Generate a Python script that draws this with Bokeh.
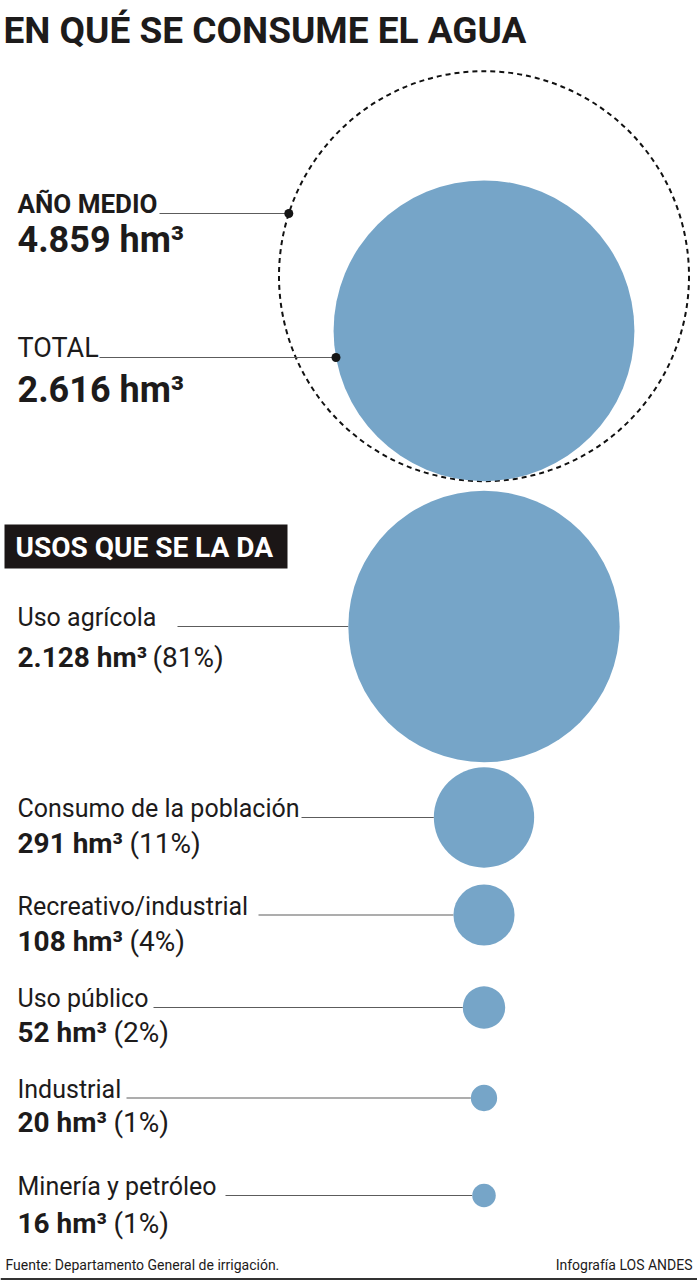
import math
from bokeh.plotting import figure
from bokeh.models import Range1d, ColumnDataSource
from bokeh.core.properties import value
from bokeh.embed import file_html
from bokeh.resources import INLINE

# ---------------- data ----------------
title = "EN QUÉ SE CONSUME EL AGUA"
section_title = "USOS QUE SE LA DA"
source_note = "Fuente: Departamento General de irrigación."
credit = "Infografía LOS ANDES"

summary_labels = ["AÑO MEDIO", "TOTAL"]
summary_values = [4859, 2616]          # hm3

categories = ["Uso agrícola", "Consumo de la población", "Recreativo/industrial",
              "Uso público", "Industrial", "Minería y petróleo"]
volumes = [2128, 291, 108, 52, 20, 16]  # hm3
percents = [81, 11, 4, 2, 1, 1]         # %

# ---------------- layout / style ----------------
W, H = 697, 1280
FONT = value("Roboto")
BLUE = "#76a5c8"
INK = "#1d1b1b"
LEADER = "#5c5c5c"

CX = 483.5                      # x of circle centres
K = 2.941                       # px of radius per sqrt(hm3)  (area-proportional)
TOP_BOTTOM = 480.7              # both top circles touch at this y
BASE_SHIFT = 0.36               # baseline correction (fraction of font size)

summary_label_y = [213, 357]
summary_value_y = [252, 402]
summary_label_style = ["bold", "normal"]
summary_label_size = [26, 27]
summary_leader_x0 = [159, 99]

row_label_y = [626, 817, 914.5, 1007, 1097.5, 1195]
row_value_y = [667, 853, 951, 1042, 1132, 1233]
row_leader_x0 = [177, 301, 258, 153, 126, 225]
row_paren_x = [152, 129, 129, 113, 113, 113]

LEFT = 17


def fmt(v):
    return f"{v:,}".replace(",", ".")


def bl(y, size):
    """text y so that the glyph baseline lands on y"""
    if isinstance(y, list):
        return [v - BASE_SHIFT * size for v in y]
    return y - BASE_SHIFT * size


p = figure(width=W, height=H, x_range=Range1d(0, W), y_range=Range1d(H, 0),
           output_backend="svg", toolbar_location=None, min_border=0,
           x_axis_location=None, y_axis_location=None)
p.grid.visible = False
p.outline_line_color = None
p.background_fill_color = "white"
p.border_fill_color = "white"

# title
p.text(x=[3], y=[bl(43, 37)], text=[title], text_font=FONT, text_font_size="37px",
       text_font_style="bold", text_color=INK, text_baseline="alphabetic")

# ---------------- top summary circles ----------------
radii_top = [K * math.sqrt(v) for v in summary_values]
cy_top = [TOP_BOTTOM - r for r in radii_top]

# outer dashed circle (año medio)
p.circle(x=[CX], y=[cy_top[0]], radius=radii_top[0], fill_alpha=0,
         line_color="#111111", line_width=2, line_dash="5 4")
# filled total circle
p.circle(x=[CX], y=[cy_top[1]], radius=radii_top[1], fill_color=BLUE,
         line_color=None)

dot_x = []
for r, cy, ly in zip(radii_top, cy_top, summary_label_y):
    dot_x.append(CX - math.sqrt(r * r - (ly - cy) ** 2))

p.segment(x0=summary_leader_x0, y0=summary_label_y, x1=dot_x, y1=summary_label_y,
          line_color=LEADER, line_width=1.2)
p.scatter(x=dot_x, y=summary_label_y, size=9, fill_color="#151515", line_color=None)

for lbl, y, st, fs in zip(summary_labels, summary_label_y, summary_label_style, summary_label_size):
    p.text(x=[LEFT], y=[bl(y, fs)], text=[lbl], text_font=FONT, text_font_size=f"{fs}px",
           text_font_style=st, text_color=INK, text_baseline="alphabetic")
p.text(x=[LEFT] * 2, y=bl(summary_value_y, 36), text=[f"{fmt(v)} hm³" for v in summary_values],
       text_font=FONT, text_font_size="36px", text_font_style="bold",
       text_color=INK, text_baseline="alphabetic")

# ---------------- section header ----------------
p.quad(left=[4], right=[287], top=[524], bottom=[568], fill_color="#1b1616", line_color=None)
p.text(x=[15], y=[bl(557, 28)], text=[section_title], text_font=FONT, text_font_size="28px",
       text_font_style="bold", text_color="white", text_baseline="alphabetic")

# ---------------- usage rows ----------------
row_r = [K * math.sqrt(v) for v in volumes]
src = ColumnDataSource(dict(
    x=[CX] * len(volumes), y=row_label_y, r=row_r,
    x0=row_leader_x0, x1=[CX - r for r in row_r],
    lab=categories, lx=[LEFT] * len(volumes), ly=bl(row_label_y, 25),
    vy=bl(row_value_y, 28), vtxt=[f"{fmt(v)} hm³" for v in volumes],
    px=row_paren_x, ptxt=[f"({pc}%)" for pc in percents],
))
p.segment(x0="x0", y0="y", x1="x1", y1="y", source=src, line_color=LEADER, line_width=1.2)
p.circle(x="x", y="y", radius="r", source=src, fill_color=BLUE, line_color=None)
p.text(x="lx", y="ly", text="lab", source=src, text_font=FONT, text_font_size="25px",
       text_color=INK, text_baseline="alphabetic")
p.text(x="lx", y="vy", text="vtxt", source=src, text_font=FONT, text_font_size="28px",
       text_font_style="bold", text_color=INK, text_baseline="alphabetic")
p.text(x="px", y="vy", text="ptxt", source=src, text_font=FONT, text_font_size="28px",
       text_color=INK, text_baseline="alphabetic")

# ---------------- footer ----------------
p.text(x=[5], y=[bl(1270, 14)], text=[source_note], text_font=FONT, text_font_size="14px",
       text_color=INK, text_baseline="alphabetic")
p.text(x=[692], y=[bl(1270, 14)], text=[credit], text_font=FONT, text_font_size="14px",
       text_color=INK, text_baseline="alphabetic", text_align="right")
p.segment(x0=[0], y0=[1278.5], x1=[W], y1=[1278.5], line_color="#333333", line_width=2)

open("out.html", "w").write(file_html(p, INLINE))
